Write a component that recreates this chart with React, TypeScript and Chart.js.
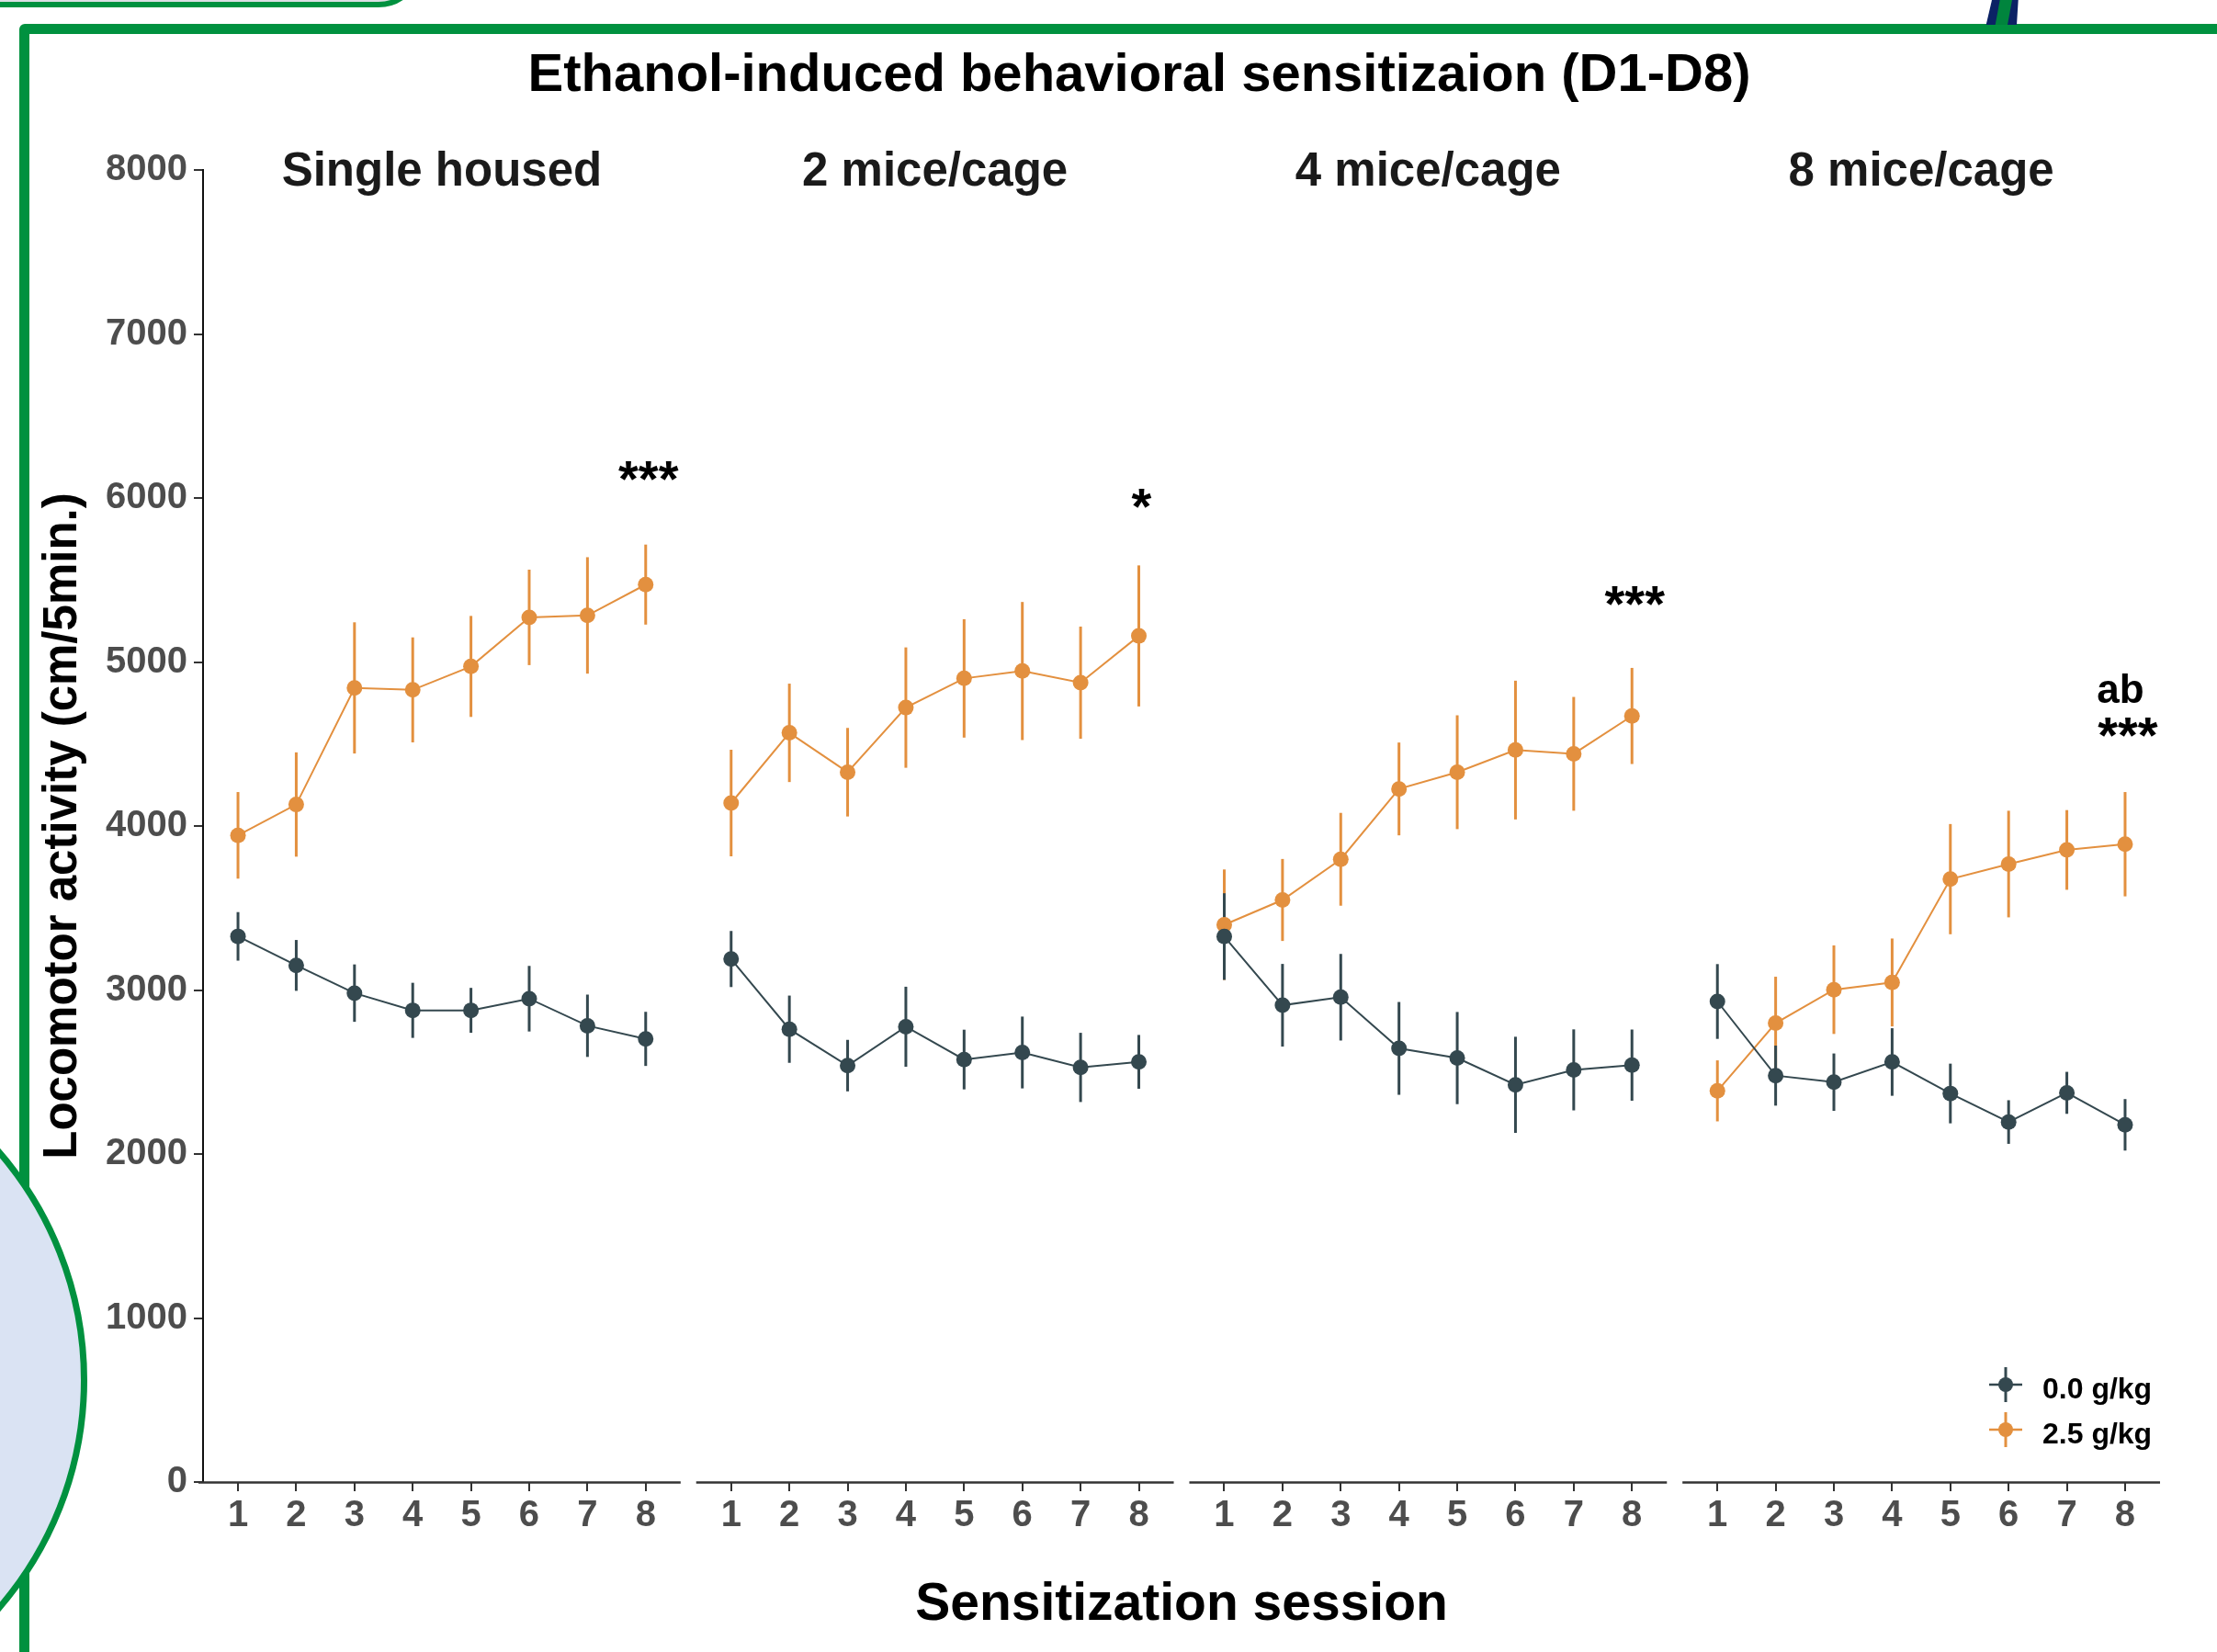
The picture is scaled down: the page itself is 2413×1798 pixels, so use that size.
import React, { useEffect, useRef } from 'react';
import { Chart, registerables } from 'chart.js';

Chart.register(...registerables);

// ---------------- data ----------------
const TITLE = 'Ethanol-induced behavioral sensitizaion (D1-D8)';
const Y_TITLE = 'Locomotor activity (cm/5min.)';
const X_TITLE = 'Sensitization session';
const PANELS = ['Single housed', '2 mice/cage', '4 mice/cage', '8 mice/cage'];
const SESSIONS = ['1', '2', '3', '4', '5', '6', '7', '8'];
const DOSES = ['0.0 g/kg', '2.5 g/kg'];
const Y_TICKS = [0, 1000, 2000, 3000, 4000, 5000, 6000, 7000, 8000];

// 0.0 g/kg (mean, SEM) per panel
const SALINE_MEAN = [
  [3327, 3150, 2981, 2876, 2876, 2947, 2782, 2702],
  [3189, 2761, 2539, 2776, 2576, 2619, 2528, 2562],
  [3326, 2907, 2956, 2644, 2585, 2422, 2513, 2542],
  [2930, 2478, 2438, 2561, 2369, 2195, 2373, 2178],
];
const SALINE_SE = [
  [148, 155, 175, 168, 137, 200, 190, 165],
  [171, 205, 157, 244, 182, 219, 211, 164],
  [264, 252, 264, 283, 281, 293, 247, 217],
  [228, 183, 175, 206, 182, 133, 128, 157],
];
// 2.5 g/kg (mean, SEM) per panel
const ETOH_MEAN = [
  [3943, 4131, 4842, 4830, 4973, 5272, 5284, 5472],
  [4140, 4568, 4328, 4722, 4900, 4945, 4874, 5159],
  [3398, 3549, 3797, 4226, 4328, 4463, 4440, 4671],
  [2385, 2798, 3002, 3046, 3676, 3768, 3854, 3889],
];
const ETOH_SE = [
  [264, 318, 400, 320, 308, 291, 355, 244],
  [325, 300, 270, 367, 361, 421, 342, 430],
  [337, 250, 283, 283, 347, 423, 347, 293],
  [186, 283, 270, 268, 336, 325, 243, 318],
];
// significance marks above session 8 of each panel
const STARS = ['***', '*', '***', '***'];
const STAR_Y = [6139, 5969, 5373, 4575];
const LETTERS = ['', '', '', 'ab'];
const LETTER_Y = [0, 0, 0, 4750];

// ---------------- styling / layout ----------------
const FONT = "'Liberation Sans', Arial, Helvetica, sans-serif";
const COLORS = ['#34484F', '#E3903F'];
const GREEN = '#00913F';
const STRIDE = 8.467; // distance between facet panels on the x scale
const X_MIN = 0.4;
const X_MAX = 3 * STRIDE + 8.6;

const xOf = (p: number, i: number) => p * STRIDE + i + 1;

function flatten(means: number[][], ses: number[][]) {
  const pts: { x: number; y: number | null }[] = [];
  const errs: (number | null)[] = [];
  means.forEach((row, p) => {
    if (p > 0) {
      pts.push({ x: p * STRIDE + 0.3, y: null });
      errs.push(null);
    }
    row.forEach((v, i) => {
      pts.push({ x: xOf(p, i), y: v });
      errs.push(ses[p][i]);
    });
  });
  return { pts, errs };
}

const X_TICK_VALUES: number[] = [];
PANELS.forEach((_, p) => SESSIONS.forEach((__, i) => X_TICK_VALUES.push(xOf(p, i))));

const errorBarPlugin = {
  id: 'errorBars',
  beforeDatasetsDraw(chart: any) {
    const { ctx } = chart;
    const ys = chart.scales.y;
    for (let d = chart.data.datasets.length - 1; d >= 0; d--) {
      const ds = chart.data.datasets[d];
      const meta = chart.getDatasetMeta(d);
      ctx.save();
      ctx.strokeStyle = ds.borderColor;
      ctx.lineWidth = 3;
      ds.data.forEach((pt: any, i: number) => {
        const se = ds.errors[i];
        if (pt.y == null || se == null) return;
        const px = meta.data[i].x;
        ctx.beginPath();
        ctx.moveTo(px, ys.getPixelForValue(pt.y + se));
        ctx.lineTo(px, ys.getPixelForValue(pt.y - se));
        ctx.stroke();
      });
      ctx.restore();
    }
  },
};

const facetPlugin = {
  id: 'facets',
  afterDraw(chart: any) {
    const { ctx, chartArea } = chart;
    const xs = chart.scales.x;
    const ys = chart.scales.y;
    ctx.save();
    // main title
    ctx.fillStyle = '#000000';
    ctx.font = `bold 58px ${FONT}`;
    ctx.textAlign = 'center';
    ctx.textBaseline = 'middle';
    ctx.fillText(TITLE, 1240, 83);
    // x axis line segments, one per panel
    ctx.strokeStyle = '#333333';
    ctx.lineWidth = 2.5;
    PANELS.forEach((_, p) => {
      let x0 = xs.getPixelForValue(p * STRIDE + X_MIN);
      const x1 = xs.getPixelForValue(p * STRIDE + 8.6);
      if (p === 0) x0 = chartArea.left - 5;
      ctx.beginPath();
      ctx.moveTo(x0, chartArea.bottom + 0.5);
      ctx.lineTo(x1, chartArea.bottom + 0.5);
      ctx.stroke();
    });
    // panel titles
    ctx.fillStyle = '#1A1A1A';
    ctx.font = `bold 51px ${FONT}`;
    ctx.textAlign = 'center';
    ctx.textBaseline = 'alphabetic';
    PANELS.forEach((name, p) => {
      const cx = (xs.getPixelForValue(p * STRIDE + X_MIN) + xs.getPixelForValue(p * STRIDE + 8.6)) / 2;
      ctx.fillText(name, cx, chartArea.top + 17);
    });
    // significance annotations
    ctx.fillStyle = '#000000';
    STARS.forEach((s, p) => {
      const fs = 56;
      ctx.font = `bold ${fs}px ${FONT}`;
      const px = xs.getPixelForValue(xOf(p, 7)) + 3;
      ctx.fillText(s, px, ys.getPixelForValue(STAR_Y[p]) + 0.4 * fs);
      if (LETTERS[p]) {
        ctx.font = `bold 44px ${FONT}`;
        ctx.fillText(LETTERS[p], px - 8, ys.getPixelForValue(LETTER_Y[p]));
      }
    });
    // inset legend
    const kx = chartArea.right - 168;
    const rows = [chartArea.bottom - 106, chartArea.bottom - 57];
    chart.data.datasets.forEach((ds: any, i: number) => {
      const ky = rows[i];
      ctx.strokeStyle = ds.borderColor;
      ctx.fillStyle = ds.borderColor;
      ctx.lineWidth = 2.5;
      ctx.beginPath();
      ctx.moveTo(kx - 18, ky);
      ctx.lineTo(kx + 18, ky);
      ctx.stroke();
      ctx.lineWidth = 3;
      ctx.beginPath();
      ctx.moveTo(kx, ky - 19);
      ctx.lineTo(kx, ky + 19);
      ctx.stroke();
      ctx.beginPath();
      ctx.arc(kx, ky, 8, 0, Math.PI * 2);
      ctx.fill();
      ctx.fillStyle = '#000000';
      ctx.font = `bold 32px ${FONT}`;
      ctx.textAlign = 'left';
      ctx.fillText(ds.label, kx + 40, ky + 15);
    });
    ctx.restore();
  },
};

export default function App() {
  const ref = useRef<HTMLCanvasElement | null>(null);

  useEffect(() => {
    if (!ref.current) return;
    Chart.defaults.font.family = FONT;
    const saline = flatten(SALINE_MEAN, SALINE_SE);
    const etoh = flatten(ETOH_MEAN, ETOH_SE);
    const tickFont = { size: 40, weight: 'bold' as const, family: FONT };
    const chart = new Chart(ref.current, {
      type: 'line',
      data: {
        datasets: [
          {
            label: DOSES[0],
            data: saline.pts,
            errors: saline.errs,
            borderColor: COLORS[0],
            backgroundColor: COLORS[0],
            borderWidth: 2,
            pointRadius: 8.5,
            pointBorderWidth: 0,
            spanGaps: false,
          } as any,
          {
            label: DOSES[1],
            data: etoh.pts,
            errors: etoh.errs,
            borderColor: COLORS[1],
            backgroundColor: COLORS[1],
            borderWidth: 2,
            pointRadius: 8.5,
            pointBorderWidth: 0,
            spanGaps: false,
          } as any,
        ],
      },
      options: {
        responsive: false,
        animation: false,
        events: [],
        layout: { padding: { left: 0, right: 62, top: 185, bottom: 0 } },
        plugins: {
          legend: { display: false },
          tooltip: { enabled: false },
          title: { display: false },
        },
        scales: {
          x: {
            type: 'linear',
            min: X_MIN,
            max: X_MAX,
            afterFit: (s: any) => {
              s.height = 185;
            },
            afterBuildTicks: (s: any) => {
              s.ticks = X_TICK_VALUES.map((v) => ({ value: v }));
            },
            ticks: {
              autoSkip: false,
              maxRotation: 0,
              minRotation: 0,
              padding: 3,
              color: '#4D4D4D',
              font: tickFont,
              callback: (_v: any, i: number) => SESSIONS[i % SESSIONS.length],
            },
            grid: {
              drawOnChartArea: false,
              drawTicks: true,
              tickLength: 10,
              color: '#333333',
              lineWidth: 2,
            },
            border: { display: false },
            title: {
              display: true,
              text: X_TITLE,
              color: '#000000',
              font: { size: 57, weight: 'bold', family: FONT, lineHeight: 1.2 },
              padding: { top: 0, bottom: 17 },
            },
          },
          y: {
            type: 'linear',
            min: 0,
            max: 8000,
            afterFit: (s: any) => {
              s.width = 221;
            },
            afterBuildTicks: (s: any) => {
              s.ticks = Y_TICKS.map((v) => ({ value: v }));
            },
            ticks: {
              padding: 7,
              color: '#4D4D4D',
              font: tickFont,
              callback: (v: any) => String(v),
            },
            grid: {
              drawOnChartArea: false,
              drawTicks: true,
              tickLength: 10,
              color: '#333333',
              lineWidth: 2,
            },
            border: { display: true, color: '#111111', width: 2 },
            title: {
              display: true,
              text: Y_TITLE,
              color: '#000000',
              font: { size: 51, weight: 'bold', family: FONT, lineHeight: 1.2 },
              padding: { top: 38, bottom: 0 },
            },
          },
        },
      } as any,
      plugins: [errorBarPlugin, facetPlugin],
    });
    return () => chart.destroy();
  }, []);

  return (
    <div
      style={{
        position: 'absolute',
        left: 0,
        top: 0,
        width: 2413,
        height: 1798,
        overflow: 'hidden',
        background: '#ffffff',
      }}
    >
      <div
        style={{
          position: 'absolute',
          left: -30,
          top: -120,
          width: 490,
          height: 128,
          boxSizing: 'border-box',
          border: `6.5px solid ${GREEN}`,
          borderRadius: '0 0 48px 0',
          background: '#DCDFE4',
        }}
      />
      <div
        style={{
          position: 'absolute',
          left: 21,
          top: 26,
          width: 2600,
          height: 2000,
          boxSizing: 'border-box',
          border: `11.5px solid ${GREEN}`,
          borderRadius: 6,
        }}
      />
      <svg style={{ position: 'absolute', left: 2150, top: 0 }} width={60} height={27}>
        <polygon points="11.7,27 45,27 46.7,0 18,0" fill="#0B2265" />
        <polygon points="21.7,27 35,27 40,0 26.7,0" fill="#00843D" />
      </svg>
      <div
        style={{
          position: 'absolute',
          left: -287 - 382,
          top: 1502 - 382,
          width: 764,
          height: 764,
          borderRadius: '50%',
          boxSizing: 'border-box',
          border: `7.5px solid ${GREEN}`,
          background: '#DAE3F3',
        }}
      />
      <canvas
        ref={ref}
        width={2413}
        height={1798}
        style={{ position: 'absolute', left: 0, top: 0, width: 2413, height: 1798 }}
      />
    </div>
  );
}
